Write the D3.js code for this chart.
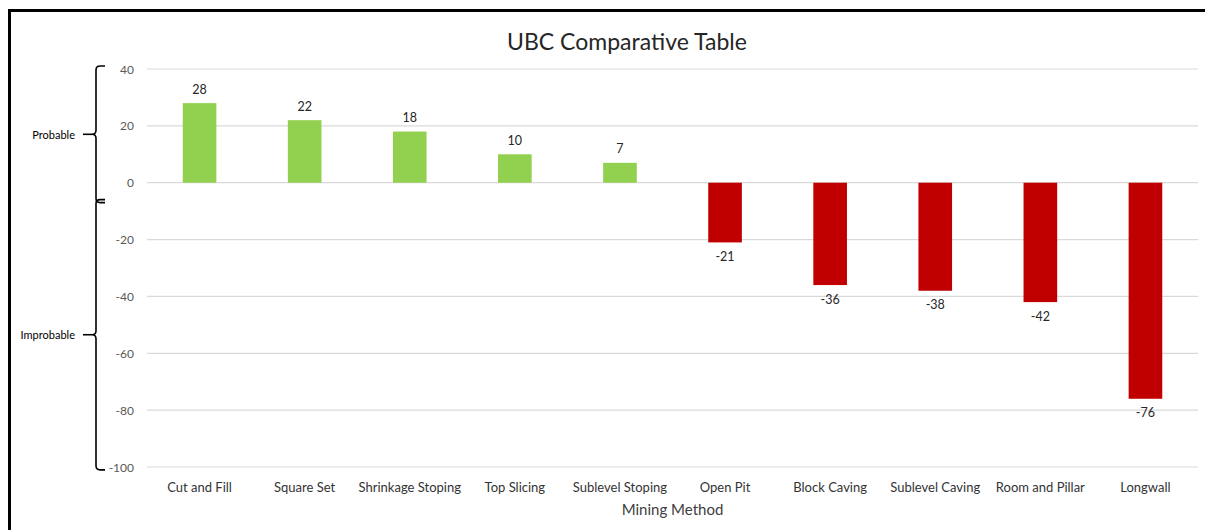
<!DOCTYPE html>
<html>
<head>
<meta charset="utf-8">
<script src="https://cdn.jsdelivr.net/npm/d3@7"></script>
<style>
  body { margin: 0; background: #fff; }
  svg { display: block; font-family: Lato, "Open Sans", sans-serif; }
</style>
</head>
<body>
<svg id="chart" width="1205" height="530"></svg>
<script>
const methods = ["Cut and Fill", "Square Set", "Shrinkage Stoping", "Top Slicing", "Sublevel Stoping",
                 "Open Pit", "Block Caving", "Sublevel Caving", "Room and Pillar", "Longwall"];
const scores = [28, 22, 18, 10, 7, -21, -36, -38, -42, -76];
const yTicks = [40, 20, 0, -20, -40, -60, -80, -100];
const zones = [
    { label: "Probable", from: 40, to: -7 },
    { label: "Improbable", from: -7, to: -101 }
];

const svg = d3.select("#chart");

// outer frame
svg.append("rect")
    .attr("x", 9.5).attr("y", 10.5)
    .attr("width", 1205).attr("height", 530)
    .attr("fill", "none")
    .attr("stroke", "#000")
    .attr("stroke-width", 3);

const plotLeft = 147, plotRight = 1198;
const y = d3.scaleLinear().domain([-100, 40]).range([467, 69]);
const x = d3.scaleBand().domain(methods).range([plotLeft, plotRight]).paddingInner(0.68).paddingOuter(0.34);

// gridlines
svg.append("g")
    .selectAll("line")
    .data(yTicks)
    .enter()
    .append("line")
    .attr("x1", plotLeft).attr("x2", plotRight)
    .attr("y1", d => y(d)).attr("y2", d => y(d))
    .attr("stroke", "#d9d9d9")
    .attr("stroke-width", 1.2);

// y tick labels
svg.append("g")
    .selectAll("text")
    .data(yTicks)
    .enter()
    .append("text")
    .attr("x", 134)
    .attr("y", d => y(d))
    .attr("text-anchor", "end")
    .attr("dominant-baseline", "central")
    .style("font-size", "12px")
    .style("fill", "#595959")
    .text(d => d);

// bars
svg.append("g")
    .selectAll("rect")
    .data(scores)
    .enter()
    .append("rect")
    .attr("x", (d, i) => x(methods[i]))
    .attr("width", x.bandwidth())
    .attr("y", d => y(Math.max(0, d)))
    .attr("height", d => Math.abs(y(d) - y(0)))
    .attr("fill", d => d >= 0 ? "#92d050" : "#c00000");

// value labels
svg.append("g")
    .selectAll("text")
    .data(scores)
    .enter()
    .append("text")
    .attr("x", (d, i) => x(methods[i]) + x.bandwidth() / 2)
    .attr("y", d => d >= 0 ? y(d) - 14 : y(d) + 14)
    .attr("text-anchor", "middle")
    .attr("dominant-baseline", "central")
    .style("font-size", "12.5px")
    .style("fill", "#262626")
    .text(d => d);

// category labels
svg.append("g")
    .selectAll("text")
    .data(methods)
    .enter()
    .append("text")
    .attr("x", d => x(d) + x.bandwidth() / 2)
    .attr("y", 487)
    .attr("text-anchor", "middle")
    .attr("dominant-baseline", "central")
    .style("font-size", "13px")
    .style("fill", "#333")
    .text(d => d);

// axis title and chart title
svg.append("text")
    .attr("x", (plotLeft + plotRight) / 2)
    .attr("y", 509)
    .attr("text-anchor", "middle")
    .attr("dominant-baseline", "central")
    .style("font-size", "15px")
    .style("fill", "#404040")
    .text("Mining Method");

svg.append("text")
    .attr("x", 627)
    .attr("y", 41)
    .attr("text-anchor", "middle")
    .attr("dominant-baseline", "central")
    .style("font-size", "23px")
    .style("fill", "#262626")
    .text("UBC Comparative Table");

// curly braces for zones
function bracePath(top, bottom) {
    const bx = 96, hook = 105, tip = 92, r = 4;
    const mid = (top + bottom) / 2;
    return `M${hook},${top} L${bx + r},${top} Q${bx},${top} ${bx},${top + r}
            L${bx},${mid - r} Q${bx},${mid} ${tip},${mid} Q${bx},${mid} ${bx},${mid + r}
            L${bx},${bottom - r} Q${bx},${bottom} ${bx + r},${bottom} L${hook},${bottom}`;
}

const braces = svg.append("g");
zones.forEach(z => {
    const top = y(z.from) - 3, bottom = y(z.to);
    braces.append("path")
        .attr("d", bracePath(top, bottom))
        .attr("fill", "none")
        .attr("stroke", "#000")
        .attr("stroke-width", 1.6);
    const mid = (top + bottom) / 2;
    braces.append("line")
        .attr("x1", 83).attr("x2", 92)
        .attr("y1", mid).attr("y2", mid)
        .attr("stroke", "#000")
        .attr("stroke-width", 1.6);
    braces.append("text")
        .attr("x", 75)
        .attr("y", mid)
        .attr("text-anchor", "end")
        .attr("dominant-baseline", "central")
        .style("font-size", "11px")
        .style("fill", "#000")
        .text(z.label);
});
</script>
</body>
</html>
